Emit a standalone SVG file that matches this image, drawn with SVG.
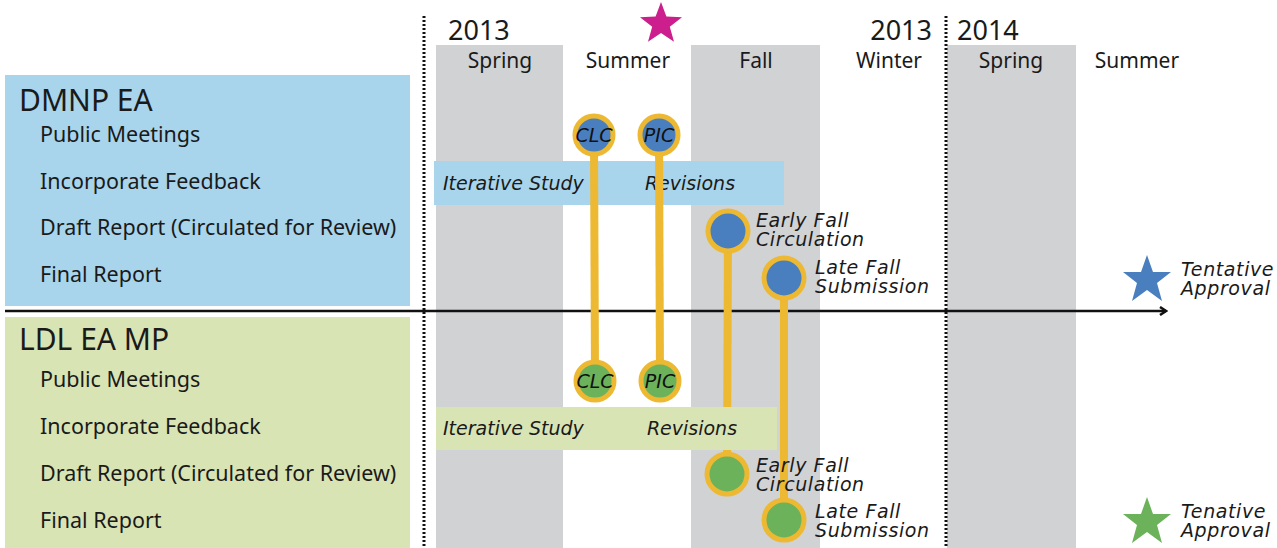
<svg xmlns="http://www.w3.org/2000/svg" width="1277" height="548" viewBox="0 0 1277 548">
<defs>
<style>
.t{font-family:"Noto Sans","Open Sans",sans-serif;fill:#1a1a1a}
.yr{font-size:27px}
.sea{font-size:21px;text-anchor:middle}
.ttl{font-size:30px}
.row{font-size:21.5px}
.it{font-family:"DejaVu Sans","Noto Sans",sans-serif;font-style:italic;font-size:19px;fill:#1a1a1a}
.it2{font-family:"DejaVu Sans","Noto Sans",sans-serif;font-style:italic;font-size:19px;fill:#1a1a1a;letter-spacing:0.6px}
.ci{font-family:"DejaVu Sans","Noto Sans",sans-serif;font-style:italic;font-size:19px;fill:#111;text-anchor:middle}
.dot{stroke:#111;stroke-width:3;stroke-dasharray:2 2}
.gray{fill:#D1D2D4}
.link{stroke:#EDB832;stroke-width:8;fill:none}
.cb{fill:#4A7FBF;stroke:#EDB832;stroke-width:5}
.cg{fill:#6BB25A;stroke:#EDB832;stroke-width:5}
</style>
<marker id="chev" viewBox="0 0 10 10" refX="8" refY="5" markerWidth="10" markerHeight="10" markerUnits="userSpaceOnUse" orient="auto">
<path d="M2,1 L8,5 L2,9" fill="none" stroke="#111" stroke-width="2.5"/>
</marker>
</defs>
<rect width="1277" height="548" fill="#fff"/>
<g id="columns">
<rect class="gray" x="436" y="45" width="127" height="503"/>
<rect class="gray" x="691" y="45" width="129" height="503"/>
<rect class="gray" x="947" y="45" width="129" height="503"/>
<line class="dot" x1="424" y1="16" x2="424" y2="548"/>
<line class="dot" x1="946" y1="16" x2="946" y2="548"/>
</g>
<g id="header">
<text class="t yr" x="448" y="40">2013</text>
<text class="t yr" x="932" y="40" text-anchor="end">2013</text>
<text class="t yr" x="957" y="40">2014</text>
<text class="t sea" x="500" y="68">Spring</text>
<text class="t sea" x="628" y="68">Summer</text>
<text class="t sea" x="756" y="68">Fall</text>
<text class="t sea" x="889" y="68">Winter</text>
<text class="t sea" x="1011" y="68">Spring</text>
<text class="t sea" x="1137" y="68">Summer</text>
<polygon fill="#CC1E8C" points="661,2 666.4,16.6 682,17.2 669.8,26.8 674,41.8 661,33 648,41.8 652.2,26.8 640,17.2 655.6,16.6"/>
</g>
<g id="dmnp-panel">
<rect x="5" y="75" width="405" height="231" fill="#A8D5EC"/>
<text class="t ttl" x="19" y="111">DMNP EA</text>
<text class="t row" x="40" y="142">Public Meetings</text>
<text class="t row" x="40" y="189">Incorporate Feedback</text>
<text class="t row" x="40" y="235">Draft Report (Circulated for Review)</text>
<text class="t row" x="40" y="282">Final Report</text>
</g>
<g id="ldl-panel">
<rect x="5" y="317" width="405" height="231" fill="#D9E4B4"/>
<text class="t ttl" x="19" y="350">LDL EA MP</text>
<text class="t row" x="40" y="387">Public Meetings</text>
<text class="t row" x="40" y="434">Incorporate Feedback</text>
<text class="t row" x="40" y="481">Draft Report (Circulated for Review)</text>
<text class="t row" x="40" y="528">Final Report</text>
</g>
<g id="dmnp-bar">
<rect x="434" y="161" width="350" height="44" fill="#A8D5EC"/>
<text class="it" x="443" y="190">Iterative Study</text>
<text class="it" x="690" y="190" text-anchor="middle">Revisions</text>
</g>
<g id="axis">
<line x1="5" y1="311" x2="1166" y2="311" stroke="#111" stroke-width="2.5" marker-end="url(#chev)"/>
</g>
<g id="connectors">
<line class="link" x1="594" y1="135" x2="595" y2="381"/>
<line class="link" x1="659" y1="135" x2="660" y2="381"/>
<line class="link" x1="728" y1="231" x2="727" y2="474"/>
<line class="link" x1="784" y1="278" x2="784" y2="520"/>
</g>
<g id="ldl-bar">
<rect x="436" y="407" width="341" height="43" fill="#D9E4B4"/>
<text class="it" x="443" y="435">Iterative Study</text>
<text class="it" x="692" y="435" text-anchor="middle">Revisions</text>
</g>
<g id="dmnp-clc"><circle class="cb" cx="594" cy="135" r="19"/><text class="ci" x="594" y="142">CLC</text></g>
<g id="dmnp-pic"><circle class="cb" cx="659" cy="135" r="19"/><text class="ci" x="659" y="142">PIC</text></g>
<g id="dmnp-early"><circle class="cb" cx="728" cy="231" r="20"/><text class="it2" x="756" y="227">Early Fall</text><text class="it2" x="756" y="246">Circulation</text></g>
<g id="dmnp-late"><circle class="cb" cx="784" cy="278" r="20"/><text class="it2" x="815" y="274">Late Fall</text><text class="it2" x="815" y="293">Submission</text></g>
<g id="dmnp-approval">
<polygon fill="#4A7FBF" points="1147,255 1153,272 1171,272 1157,283 1162,301 1147,290 1132,301 1137,283 1123,272 1141,272"/>
<text class="it2" x="1181" y="276">Tentative</text><text class="it2" x="1181" y="295">Approval</text>
</g>
<g id="ldl-clc"><circle class="cg" cx="595" cy="381" r="19"/><text class="ci" x="595" y="388">CLC</text></g>
<g id="ldl-pic"><circle class="cg" cx="660" cy="381" r="19"/><text class="ci" x="660" y="388">PIC</text></g>
<g id="ldl-early"><circle class="cg" cx="727" cy="474" r="20"/><text class="it2" x="756" y="472">Early Fall</text><text class="it2" x="756" y="491">Circulation</text></g>
<g id="ldl-late"><circle class="cg" cx="784" cy="520" r="20"/><text class="it2" x="815" y="518">Late Fall</text><text class="it2" x="815" y="537">Submission</text></g>
<g id="ldl-approval">
<polygon fill="#6BB25A" points="1147,497 1153,514 1171,514 1157,525 1162,543 1147,532 1132,543 1137,525 1123,514 1141,514"/>
<text class="it2" x="1181" y="518">Tenative</text><text class="it2" x="1181" y="537">Approval</text>
</g>
</svg>
